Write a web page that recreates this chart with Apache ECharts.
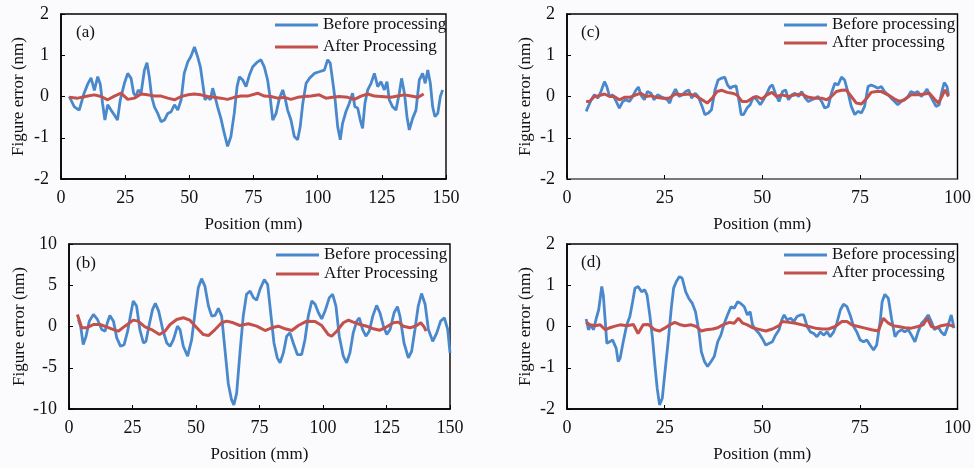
<!DOCTYPE html>
<html>
<head>
<meta charset="utf-8">
<script src="https://cdn.jsdelivr.net/npm/echarts@6/dist/echarts.min.js"></script>
<style>
html,body{margin:0;padding:0;background:#fbfbfe;}
#chart{width:974px;height:468px;}
</style>
</head>
<body>
<div id="chart"></div>
<script>
// ---------------- DATA ----------------
const xTicksAB = [0, 25, 50, 75, 100, 125, 150];
const xTicksCD = [0, 25, 50, 75, 100];
const seriesNames = ['Before processing', 'After Processing', 'After processing'];
const panelLabels = ['(a)', '(b)', '(c)', '(d)'];

// Panel (a): [position mm, figure error nm]
const beforeA = [[3.2,0],[5.2,-0.25],[7.1,-0.33],[9,0.08],[10.4,0.3],[11.7,0.45],[13,0.15],[14.3,0.48],[15.3,0.3],[16.2,-0.17],[17.1,-0.57],[18.2,-0.2],[19.5,-0.33],[20.8,-0.45],[22,-0.57],[23.1,-0.08],[24.7,0.32],[26,0.56],[27.3,0.44],[28.3,0.08],[29.2,0],[30.1,0.16],[31.2,0.08],[32.5,0.64],[33.5,0.82],[34.4,0.48],[35.3,0],[36.4,-0.25],[37.7,-0.41],[39,-0.61],[40.3,-0.57],[41.6,-0.41],[42.9,-0.37],[44.2,-0.2],[45.5,-0.33],[46.8,-0.08],[48,0.56],[49.4,0.84],[50.6,0.97],[52,1.2],[53.2,0.97],[54.3,0.72],[55.2,0.32],[56.1,-0.08],[57.1,0],[58.2,-0.08],[59.1,0.2],[60,0],[61,-0.25],[62.3,-0.53],[63.6,-0.89],[64.9,-1.21],[66.2,-0.97],[67.5,-0.41],[68.6,0.24],[69.5,0.48],[70.8,0.4],[72.1,0.24],[73.4,0.52],[74.7,0.72],[76.6,0.84],[77.9,0.89],[79.2,0.72],[80.5,0.4],[81.6,-0.08],[82.5,-0.57],[83.8,-0.41],[85.1,-0.04],[86.4,0.16],[87.3,-0.04],[88.3,-0.33],[89.6,-0.57],[90.9,-0.97],[92.2,-1.05],[93.2,-0.73],[94.2,-0.17],[95.5,0.32],[96.8,0.44],[98.7,0.56],[100.6,0.6],[102.6,0.64],[103.9,0.89],[104.9,0.81],[105.8,0.4],[106.8,-0.08],[107.8,-0.73],[108.8,-1.05],[109.7,-0.65],[111,-0.37],[112.3,-0.17],[113.6,0.08],[114.5,-0.25],[115.6,-0.28],[116.6,-0.57],[117.5,-0.77],[118.4,-0.17],[119.5,0.16],[120.8,0.32],[122.1,0.56],[123.4,0.24],[124.7,0.36],[126,0.16],[127,0.36],[127.9,-0.08],[129.2,-0.25],[130.5,-0.33],[131.8,0.08],[132.7,0.44],[133.8,0.08],[134.8,-0.49],[135.7,-0.81],[137,-0.53],[138.3,-0.33],[139.6,0.4],[140.9,0.56],[141.9,0.32],[142.9,0.64],[143.9,0.32],[144.8,-0.25],[145.7,-0.49],[146.8,-0.41],[147.8,0],[148.7,0.16]];
const afterA = [[3.2,-0.02],[6.5,-0.04],[10.4,0.01],[13,0.04],[15.6,0],[18.2,-0.08],[20.8,0.01],[23.4,0.08],[26,-0.07],[28.6,-0.04],[31.2,0.06],[33.8,0.04],[36.4,0.01],[39,0.01],[41.6,-0.04],[44.2,-0.08],[46.8,0],[49.4,0.04],[52,0.06],[54.5,0.04],[57.1,0],[59.7,-0.02],[62.3,-0.04],[64.9,-0.07],[67.5,-0.02],[70.1,0.01],[72.7,0.01],[76.6,0.08],[79.2,0.01],[81.8,0],[84.4,-0.04],[87,-0.02],[89.6,-0.07],[92.2,-0.02],[94.8,0],[97.4,0.01],[100.6,0.04],[103.2,-0.04],[105.8,-0.02],[108.4,0],[111.7,-0.02],[114.3,-0.07],[116.9,0.01],[119.5,0.06],[122.1,0.01],[124.7,0],[128.6,-0.02],[131.2,0.01],[133.8,0.04],[136.4,0.01],[139,-0.02],[141.3,0.06]];

// Panel (b)
const beforeB = [[3.7,0.85],[4.6,0],[5.6,-2.2],[6.7,-1.2],[8,0.65],[9.6,1.46],[11.2,0.85],[12.9,-0.37],[14.2,-0.57],[15.1,0.45],[16.1,1.34],[17.5,0.65],[18.8,-1.38],[20.3,-2.4],[21.7,-2.2],[23.1,-0.57],[24.4,1.67],[25.3,3.1],[26.6,2.48],[27.9,-0.37],[29.3,-2],[30.3,-1.8],[31.6,0.24],[32.9,2.07],[34,2.8],[35.3,1.87],[36.9,-0.37],[38.5,-2],[39.8,-2.4],[41.1,-1.6],[42.7,0.04],[43.7,-0.37],[45,-2.4],[46.7,-3.6],[48.3,-1.6],[49.6,1.67],[50.9,4.7],[52.2,5.8],[53.5,4.9],[54.9,2.48],[56.2,1.26],[57.5,1.34],[58.8,2.2],[60.1,1.26],[61.4,-2.8],[62.7,-6.9],[64,-8.9],[64.9,-9.5],[66,-8.1],[67.3,-3.2],[68.6,1.26],[69.9,3.9],[71.3,4.3],[72.6,3.5],[73.9,3.2],[75.2,4.5],[76.9,5.7],[78.2,5.1],[79.4,1.67],[80.7,-2],[82,-3.8],[83.1,-4.4],[84.4,-3.2],[85.7,-1.18],[87,-0.77],[88.3,-2],[89.9,-3.4],[91.6,-3.4],[92.9,-1.6],[94.2,1.26],[95.6,3.1],[96.9,2.7],[98.2,1.67],[99.5,0.93],[100.8,1.87],[102.5,3.5],[103.8,3.9],[105.1,2.48],[106.4,-1.18],[108,-3.6],[109.3,-4.4],[110.6,-3.2],[111.9,-0.77],[113.3,0.65],[114.3,1.06],[115.6,-0.37],[116.9,-1.18],[118.2,-0.57],[119.6,1.26],[121.1,2.56],[122.4,1.67],[123.8,0.04],[125.1,-0.98],[126.4,-0.37],[128,1.67],[129.3,2.4],[130.3,1.26],[131.9,-2],[133.6,-3.8],[134.9,-3],[136.2,-0.37],[137.5,2.48],[138.8,4],[140.2,2.7],[141.5,-0.37],[143.2,-1.8],[144.8,-0.77],[146.3,0.65],[147.8,1.06],[149.1,-0.37],[150,-3.2]];
const afterB = [[3.3,1.46],[5,-0.16],[7,-0.16],[9.6,0.24],[12.2,0.24],[14.8,-0.04],[17.5,-0.37],[19.4,-0.57],[22,0.04],[25.3,0.77],[27.2,0.65],[29.9,-0.04],[32.5,-0.37],[35.6,-0.98],[37.8,-0.57],[39.8,0.24],[42.4,0.85],[45,1.06],[47.6,0.77],[50.3,-0.16],[52.9,-0.98],[54.9,-1.1],[57.5,-0.37],[60.1,0.45],[62.1,0.65],[64.7,0.45],[67.3,0.12],[70.6,0.33],[73.9,0.04],[77.2,-0.49],[79.8,-0.16],[82.4,0.04],[85.1,-0.28],[87.7,-0.49],[90.3,0.12],[93.6,0.65],[96.9,0.61],[99.5,0.12],[102.1,-0.98],[103.4,-1.18],[105.4,-0.57],[108,0.45],[110,0.77],[111.9,0.53],[114.6,0.24],[117.2,0.04],[119.8,-0.28],[122.4,-0.45],[125.1,-0.04],[127.7,0.45],[129.7,0.53],[131.6,0.04],[134.3,-0.16],[136.9,0.12],[138.5,0.45],[139.8,-0.04],[140.6,-0.57]];

// Panel (c)
const beforeC = [[4.9,-0.36],[5.4,-0.4],[6.2,-0.08],[7,0.04],[7.9,-0.04],[8.7,0.12],[9.6,0.36],[10.2,0.24],[10.9,0],[11.7,0.04],[12.6,-0.12],[13.4,-0.28],[14.3,-0.12],[15.1,-0.08],[16,-0.12],[16.8,0],[17.7,0.16],[18.3,0.23],[18.9,0.04],[19.8,-0.08],[20.6,0.12],[21.5,0.08],[22.3,-0.08],[23.2,0.04],[24,0],[24.9,-0.04],[25.7,-0.08],[26.3,-0.16],[27,0.04],[27.8,0.18],[28.7,0],[29.5,0.04],[30.4,0.12],[31.2,0.16],[31.9,-0.04],[32.8,0.08],[33.6,0],[34.6,-0.24],[35.3,-0.44],[36.2,-0.4],[37,-0.32],[37.9,0.16],[38.7,0.4],[39.5,0.44],[40.4,0.47],[41.1,0.28],[41.8,0.2],[42.4,0.24],[43.3,0.26],[44,-0.08],[44.6,-0.44],[45.2,-0.44],[46.1,-0.28],[46.9,-0.2],[47.8,0],[48.6,-0.08],[49.5,-0.2],[50.3,-0.08],[51.2,0.08],[52,0.24],[52.6,0.28],[53.5,0.04],[54.3,-0.12],[55.2,0.12],[56,0.16],[56.7,-0.08],[57.6,0.04],[58.4,0.08],[59.3,0],[60.1,0.12],[61,-0.04],[61.8,-0.12],[62.7,-0.08],[63.5,-0.04],[64.3,0],[65.2,-0.12],[66,-0.28],[66.9,-0.24],[67.7,0.08],[68.6,0.32],[69.4,0.28],[70.3,0.47],[71.1,0.4],[72,0.08],[72.8,-0.24],[73.7,-0.44],[74.5,-0.36],[75.4,-0.4],[76.2,-0.24],[77.1,0.24],[77.9,0.28],[78.8,0.24],[79.6,0.2],[80.5,0.24],[81.3,0.12],[82.2,0.04],[83,-0.04],[83.9,-0.12],[84.7,-0.2],[85.6,-0.12],[86.4,-0.08],[87.3,0],[88.1,0.12],[89,0.08],[89.8,0.12],[90.7,0],[91.5,0.08],[92.2,0.18],[92.9,0.04],[93.6,-0.08],[94.5,-0.24],[95.3,-0.2],[96,0.12],[96.6,0.34],[97.3,0.24],[97.7,0.04]];
const afterC = [[4.9,-0.12],[5.8,-0.12],[7,0],[8.3,0.02],[9.6,0.06],[10.9,0],[12.1,0],[13.4,-0.08],[14.7,-0.02],[16,-0.02],[17.7,0.04],[18.9,0.08],[20.2,0],[21.5,0.02],[22.8,-0.02],[24.4,-0.04],[26.1,-0.04],[27.8,0.06],[29.5,0.04],[31.2,0.06],[32.9,0.02],[34.6,-0.08],[35.9,-0.16],[37.2,-0.04],[38.4,0.12],[39.7,0.15],[41,0.1],[42.3,0.08],[43.5,0.04],[44.8,-0.12],[46.1,-0.12],[47.4,-0.04],[48.6,0],[49.9,-0.06],[51.2,0.04],[52.5,0.1],[53.7,0],[55,0.04],[56.7,0],[58.4,0.04],[60.1,0.06],[61.8,-0.02],[63.5,-0.04],[65.2,-0.04],[66.5,-0.08],[67.7,0],[69,0.12],[70.3,0.15],[71.5,0.16],[72.8,0],[74.1,-0.16],[75.4,-0.18],[76.6,-0.06],[77.9,0.1],[79.2,0.12],[80.5,0.12],[82.2,0.04],[83.9,-0.06],[85.1,-0.12],[86.4,-0.08],[88.1,0.04],[89.8,0.04],[91.5,0.06],[92.8,0.08],[94.1,-0.06],[95.1,-0.16],[96,0],[96.8,0.16],[97.7,0]];

// Panel (d)
const beforeD = [[4.9,0.18],[5.5,-0.08],[6.1,0.04],[6.8,-0.08],[7.5,0.2],[8.1,0.4],[8.5,0.68],[8.9,0.97],[9.3,0.76],[9.8,0.12],[10.2,-0.41],[10.9,-0.37],[11.7,-0.33],[12.6,-0.53],[13.1,-0.85],[13.6,-0.77],[14.4,-0.37],[15.3,0.04],[16.1,0.24],[16.8,0.6],[17.4,0.93],[18.2,0.97],[19.1,0.84],[19.9,0.89],[20.5,0.76],[21.2,0.28],[21.9,-0.29],[22.5,-0.93],[23.1,-1.5],[23.7,-1.9],[24.4,-1.74],[25,-1.18],[25.9,-0.37],[26.7,0.44],[27.3,0.93],[28,1.09],[28.8,1.21],[29.5,1.17],[30.4,0.84],[31.2,0.68],[32.1,0.56],[32.9,0.36],[33.8,-0.13],[34.4,-0.61],[35.2,-0.85],[36,-0.97],[36.9,-0.85],[37.7,-0.73],[38.6,-0.37],[39.4,-0.21],[40.3,0.08],[41.1,0.28],[42,0.48],[42.8,0.44],[43.7,0.6],[44.5,0.56],[45.4,0.48],[46.2,0.28],[46.9,0.36],[47.5,0.04],[48.3,-0.08],[49.2,-0.17],[50,-0.29],[50.9,-0.45],[51.7,-0.41],[52.6,-0.37],[53.4,-0.21],[54.3,-0.08],[55,0.16],[55.6,0.28],[56.4,0.16],[57.3,0.2],[58.1,0.12],[58.9,0.24],[59.8,0.28],[60.6,0.28],[61.5,0],[62.3,-0.13],[63.2,-0.17],[64,-0.25],[64.9,-0.13],[65.7,-0.21],[66.6,-0.13],[67.4,-0.25],[68.3,-0.13],[69.1,0.08],[70,0.4],[70.8,0.54],[71.7,0.48],[72.5,0.28],[73.4,0],[74.2,-0.13],[75.1,-0.33],[75.9,-0.37],[76.8,-0.33],[77.6,-0.45],[78.5,-0.57],[79.3,-0.45],[80.2,0.12],[80.7,0.6],[81.4,0.78],[82.3,0.68],[83.1,0.2],[84,-0.25],[84.8,-0.13],[85.7,-0.08],[86.5,-0.13],[87.4,-0.08],[88.2,-0.21],[89.1,-0.37],[89.9,-0.13],[90.8,0.08],[91.6,0.16],[92.5,0.28],[93.3,0.12],[94.1,-0.08],[95,0],[95.8,-0.13],[96.7,-0.21],[97.5,0],[98.4,0.28],[99.1,-0.04]];
const afterD = [[4.9,0.1],[5.9,0.04],[7.2,0.02],[8.5,0.04],[9.8,-0.08],[11,-0.03],[12.3,0.01],[13.6,0.04],[15.3,0.02],[17,0.05],[18.2,-0.17],[19.5,0.04],[20.8,0.05],[22.5,-0.08],[23.7,-0.11],[25,-0.04],[26.3,0.04],[27.6,0.1],[28.8,0.05],[30.1,0.02],[31.8,0.04],[33.1,0],[34.4,-0.11],[35.6,-0.08],[37.3,-0.06],[38.6,-0.03],[39.9,0.04],[41.6,0.1],[42.8,0.08],[43.9,0.2],[45,0.08],[46.2,0.04],[47.5,-0.03],[49.2,-0.07],[50.9,-0.11],[52.6,-0.06],[54.3,0.02],[55.1,0.12],[56.8,0.1],[58.5,0.08],[60.2,0.04],[61.9,0],[63.6,-0.04],[65.3,-0.06],[67,-0.06],[68.7,0],[70.4,0.12],[71.7,0.12],[72.9,0.04],[74.6,0],[76.3,-0.04],[78,-0.08],[79.7,-0.11],[81,0.2],[82.3,0.08],[83.5,0.02],[84.8,0],[86.5,-0.03],[88.2,-0.04],[89.9,0],[91.2,0.04],[92.3,0.2],[93.3,0],[94.6,-0.04],[95.8,0.02],[97.5,0.05],[99.1,0]];

// ---------------- CHART ----------------
const FONT = '"Liberation Serif","Times New Roman",serif';
const BLUE = '#4a88cc';
const RED = '#c4504c';

const panels = [
  {grid:{left:61, top:14, width:385, height:165}, xmax:150, ymin:-2, ymax:2, yint:1, nameGap:34, before:beforeA, after:afterA, afterName:seriesNames[1], legend:{left:275, top:16, itemGap:4}, label:{x:76, y:33}, xLineColor:'#000'},
  {grid:{left:69, top:244, width:381, height:165}, xmax:150, ymin:-10, ymax:10, yint:5, nameGap:41, before:beforeB, after:afterB, afterName:seriesNames[1], legend:{left:276, top:246, itemGap:1}, label:{x:76, y:264}, xLineColor:'#000'},
  {grid:{left:567, top:14, width:393, height:165}, xmax:100, ymin:-2, ymax:2, yint:1, nameGap:33, before:beforeC, after:afterC, afterName:seriesNames[2], legend:{left:784, top:16, itemGap:0}, label:{x:581, y:33}, xLineColor:'#8c8c8c'},
  {grid:{left:567, top:244, width:393, height:165}, xmax:100, ymin:-2, ymax:2, yint:1, nameGap:33, before:beforeD, after:afterD, afterName:seriesNames[2], legend:{left:784, top:246, itemGap:0}, label:{x:581, y:263}, xLineColor:'#000'}
];

const option = {
  backgroundColor:'#fbfbfe',
  animation:false,
  grid:[], xAxis:[], yAxis:[], series:[], legend:[], graphic:[]
};

panels.forEach((p, i) => {
  option.grid.push(Object.assign({show:true, borderColor:'#000', borderWidth:1.4, backgroundColor:'transparent'}, p.grid));
  option.xAxis.push({
    type:'value', gridIndex:i, min:0, max:p.xmax, interval:25,
    name:'Position (mm)', nameLocation:'middle', nameGap:37,
    nameTextStyle:{fontFamily:FONT, fontSize:17, color:'#111'},
    axisLine:{show:true, onZero:false, lineStyle:{color:p.xLineColor, width:1.6}},
    axisTick:{show:true, inside:true, length:4, lineStyle:{color:'#000'}},
    axisLabel:{fontFamily:FONT, fontSize:18, color:'#111', margin:10},
    splitLine:{show:false}
  });
  option.yAxis.push({
    type:'value', gridIndex:i, min:p.ymin, max:p.ymax, interval:p.yint,
    name:'Figure error (nm)', nameLocation:'middle', nameGap:p.nameGap,
    nameTextStyle:{fontFamily:FONT, fontSize:17, color:'#111'},
    axisLine:{show:true, onZero:false, lineStyle:{color:'#000', width:1.6}},
    axisTick:{show:true, inside:true, length:4, lineStyle:{color:'#000'}},
    axisLabel:{fontFamily:FONT, fontSize:18, color:'#111', margin:12},
    splitLine:{show:false}
  });
  option.series.push({
    name:seriesNames[0], type:'line', xAxisIndex:i, yAxisIndex:i,
    data:p.before, showSymbol:false, symbol:'none',
    lineStyle:{color:BLUE, width:2.8}, itemStyle:{color:BLUE}, z:2
  });
  option.series.push({
    name:p.afterName, type:'line', xAxisIndex:i, yAxisIndex:i,
    data:p.after, showSymbol:false, symbol:'none',
    lineStyle:{color:RED, width:3}, itemStyle:{color:RED}, z:3
  });
  option.legend.push({
    data:[seriesNames[0], p.afterName], orient:'vertical',
    left:p.legend.left, top:p.legend.top, itemGap:p.legend.itemGap, padding:0,
    icon:'rect', itemWidth:43, itemHeight:3, selectedMode:false,
    textStyle:{fontFamily:FONT, fontSize:17, color:'#111', lineHeight:18}
  });
  option.graphic.push({
    type:'text', left:p.label.x, top:p.label.y - 9,
    style:{text:panelLabels[i], font:'17px ' + FONT, fill:'#111'}
  });
});

const chart = echarts.init(document.getElementById('chart'), null, {renderer:'canvas'});
chart.setOption(option);
</script>
</body>
</html>
